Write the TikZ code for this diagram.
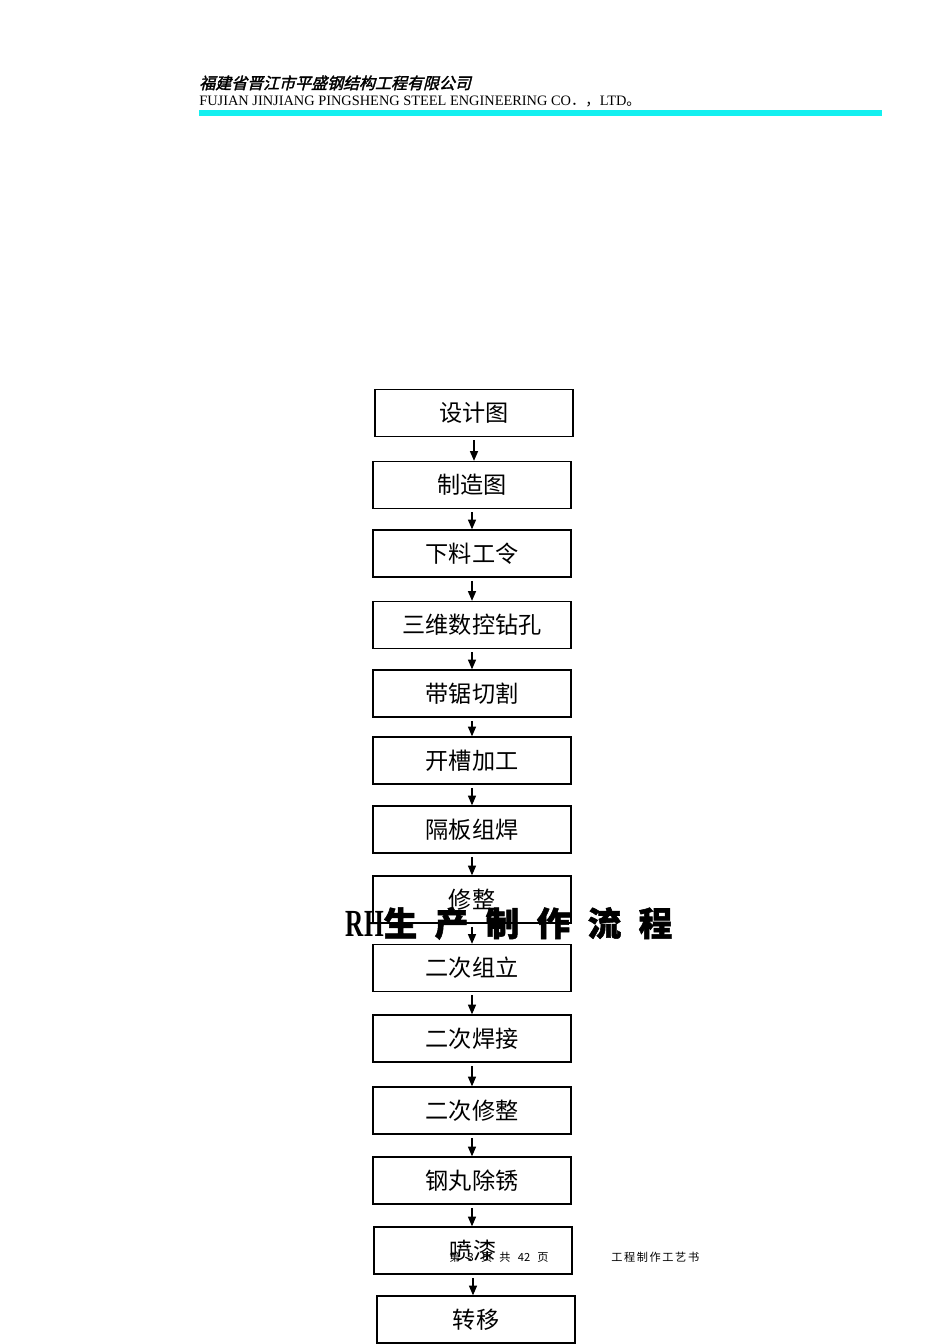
\documentclass[tikz,border=0pt]{standalone}
\usepackage{fontspec}
\setmainfont{Liberation Serif}
\newfontfamily\cjk{Noto Sans CJK SC}
\newfontfamily\cjkbold{Noto Sans CJK SC}[FakeBold=1.6]
\newfontfamily\cjkhead{Noto Sans CJK SC}[FakeBold=2,FakeSlant=0.25]
\usetikzlibrary{arrows.meta}
\definecolor{headcyan}{RGB}{20,240,240}
\newcommand{\gap}{\hspace{0.52em}}
\tikzset{
  stepbox/.style={draw, line width=0.8pt, minimum width=124pt, minimum height=29.5pt,
    inner sep=0pt, font=\cjk\fontsize{14.5}{14.5}\selectfont},
  flow/.style={-{Triangle[width=5pt,length=6pt]}, line width=0.7pt},
  foot/.style={anchor=base west, inner sep=0pt, font=\cjk\fontsize{7}{7}\selectfont}
}
\begin{document}
\begin{tikzpicture}[x=0.626pt, y=-0.626pt]
      \useasboundingbox (0,0) rectangle (950,1344);
      % header
      \node[anchor=base west, inner sep=0pt, font=\cjkhead\fontsize{10}{10}\selectfont] (firm) at (199,89) {福建省晋江市平盛钢结构工程有限公司};
      \node[anchor=base west, inner sep=0pt, font=\fontsize{9}{10}\selectfont] (firmen) at (199,105) {FUJIAN JINJIANG PINGSHENG STEEL ENGINEERING CO{\cjk．，}LTD{\cjk 。}};
      \draw[headcyan, line width=3.2pt] (199,113) -- (882,113);
      % flow steps
      \foreach \name/\x/\y/\txt in {s1/474/413/设计图, s2/472/485/制造图, s3/472/553.5/下料工令,
        s4/472/625/三维数控钻孔, s5/472/693.5/带锯切割, s6/472/760.5/开槽加工,
        s7/472/829.5/隔板组焊, s8/472/899.5/修整, s9/472/968/二次组立,
        s10/472/1038.5/二次焊接, s11/472/1110.5/二次修整, s12/472/1180.5/钢丸除锈,
        s13/473/1250.5/喷漆, s14/476/1319.5/转移}
      \node[stepbox] (\name) at (\x,\y) {\txt};
      \foreach \a/\b in {s1/s2, s2/s3, s3/s4, s4/s5, s5/s6, s6/s7, s7/s8,
        s8/s9, s9/s10, s10/s11, s11/s12, s12/s13, s13/s14}
      \draw[flow] ([yshift=-2pt]\a.south) -- (\a.south |- \b.north);
      % title over the chart
      \node[inner sep=0pt, anchor=base] (title) at (509,936) {\bfseries\fontsize{24}{24}\selectfont\scalebox{0.66}[1]{RH}\cjkbold\fontsize{21}{21}\selectfont 生\gap 产\gap 制\gap 作\gap 流\gap 程};
      % footer
      \node[foot] (page) at (449,1261) {第\hspace{4.5pt}3\hspace{4.5pt}页\hspace{4.5pt}共\hspace{4.5pt}42\hspace{4.5pt}页};
      \node[foot] (book) at (611,1261) {工\hspace{1pt}程\hspace{1pt}制\hspace{1pt}作\hspace{1pt}工\hspace{1pt}艺\hspace{1pt}书};
     \end{tikzpicture}
\end{document}
